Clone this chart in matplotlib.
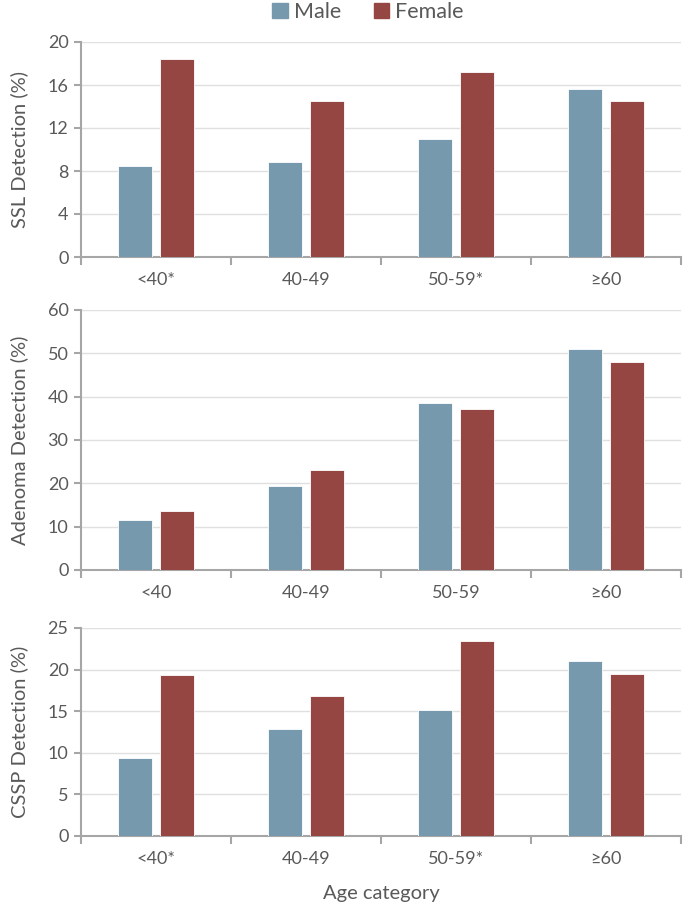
import matplotlib
matplotlib.use("Agg")
import matplotlib.pyplot as plt
import numpy as np
from matplotlib.patches import Patch

plt.rcParams['font.family'] = ['Lato', 'DejaVu Sans']

cats_star = ["<40*", "40-49", "50-59*", "≥60"]
cats_plain = ["<40", "40-49", "50-59", "≥60"]

ssl_male = [8.5, 8.8, 11.0, 15.6]
ssl_female = [18.4, 14.5, 17.2, 14.5]
aden_male = [11.6, 19.3, 38.5, 51.0]
aden_female = [13.7, 23.1, 37.2, 48.0]
cssp_male = [9.4, 12.85, 15.15, 21.05]
cssp_female = [19.3, 16.85, 23.4, 19.45]

male_c = "#7799AE"
female_c = "#954542"
txt_c = "#595959"
spine_c = "#A6A6A6"
grid_c = "#E0E0E0"

W, H = 685, 907
fig = plt.figure(figsize=(W/100, H/100), dpi=100)

panels = [
    (42, 257, ssl_male, ssl_female, cats_star, "SSL Detection (%)", 20, 4),
    (310, 570, aden_male, aden_female, cats_plain, "Adenoma Detection (%)", 60, 10),
    (628, 836, cssp_male, cssp_female, cats_star, "CSSP Detection (%)", 25, 5),
]

left_px, right_px = 81, 681
x = np.arange(4)
bw = 0.227
off = 0.143

axes = []
for top, bot, m, f, cats, ylabel, ymax, step in panels:
    ax = fig.add_axes([left_px/W, 1-bot/H, (right_px-left_px)/W, (bot-top)/H])
    ax.bar(x-off, m, bw, color=male_c, edgecolor="white", linewidth=0.6, zorder=3)
    ax.bar(x+off, f, bw, color=female_c, edgecolor="white", linewidth=0.6, zorder=3)
    ax.set_xlim(-0.5, 3.5)
    ax.set_ylim(0, ymax)
    ax.set_yticks(np.arange(0, ymax+0.1, step))
    ax.yaxis.grid(True, color=grid_c, linewidth=1.0, zorder=0)
    ax.set_axisbelow(True)
    for s in ["top", "right"]:
        ax.spines[s].set_visible(False)
    for s in ["left", "bottom"]:
        ax.spines[s].set_color(spine_c)
        ax.spines[s].set_linewidth(1.5)
    ax.set_xticks(x)
    ax.set_xticklabels(cats)
    ax.set_xticks(np.arange(-0.5, 3.6, 1.0), minor=True)
    ax.tick_params(axis="x", which="major", length=0, pad=11, labelsize=13, labelcolor=txt_c)
    ax.tick_params(axis="x", which="minor", length=6, width=1.5, color=spine_c, direction="out")
    ax.tick_params(axis="y", length=5, width=1.5, color=spine_c, labelsize=13, labelcolor=txt_c, pad=4)
    ax.set_ylabel(ylabel, fontsize=14.5, color=txt_c)
    ax.yaxis.set_label_coords(-0.088, 0.5)
    axes.append(ax)

axes[2].set_xlabel("Age category", fontsize=14.5, color=txt_c, labelpad=13)

handles = [Patch(color=male_c, label="Male"), Patch(color=female_c, label="Female")]
fig.legend(handles=handles, loc="center", bbox_to_anchor=(368/W, 1-12/H), ncol=2,
           frameon=False, fontsize=15.5, handlelength=0.7, handleheight=0.7,
           handletextpad=0.3, columnspacing=1.5, labelcolor=txt_c)

fig.savefig("out.png", dpi=100)
